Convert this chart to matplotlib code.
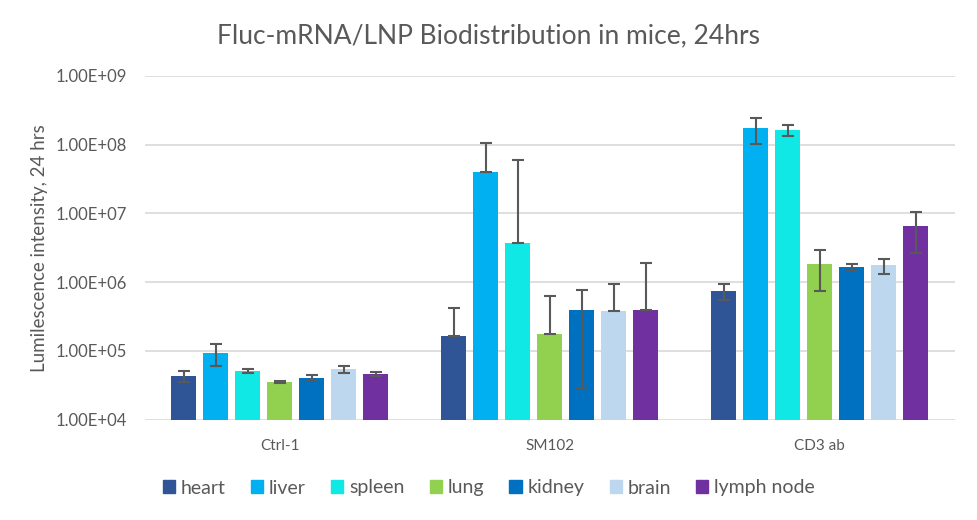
import numpy as np
import matplotlib
matplotlib.use("Agg")
import matplotlib.pyplot as plt
from matplotlib.patches import Patch

plt.rcParams["font.family"] = ["Lato", "DejaVu Sans"]

# groups and organs
GROUPS = ["Ctrl-1", "SM102", "CD3 ab"]
ORGANS = ["heart", "liver", "spleen", "lung", "kidney", "brain", "lymph node"]
COLORS = ["#2F5597", "#00B0F0", "#0FE8E4", "#92D050", "#0070C0", "#BDD7EE", "#7030A0"]

# mean intensity per organ, one value per group
heart = [4.3e4, 1.64e5, 7.4e5]
liver = [9.3e4, 3.96e7, 1.73e8]
spleen = [5.07e4, 3.67e6, 1.61e8]
lung = [3.51e4, 1.75e5, 1.82e6]
kidney = [4.01e4, 3.9e5, 1.65e6]
brain = [5.42e4, 3.78e5, 1.76e6]
lymph = [4.59e4, 3.9e5, 6.5e6]

# error bar ends (lower, upper)
heart_lo, heart_hi = [3.54e4, 1.64e5, 5.46e5], [5.12e4, 4.22e5, 9.4e5]
liver_lo, liver_hi = [6.05e4, 3.96e7, 1.02e8], [1.26e5, 1.05e8, 2.44e8]
spleen_lo, spleen_hi = [4.79e4, 3.67e6, 1.33e8], [5.47e4, 5.97e7, 1.93e8]
lung_lo, lung_hi = [3.4e4, 1.75e5, 7.4e5], [3.62e4, 6.3e5, 2.94e6]
kidney_lo, kidney_hi = [3.71e4, 2.84e4, 1.46e6], [4.48e4, 7.7e5, 1.84e6]
brain_lo, brain_hi = [4.79e4, 3.78e5, 1.32e6], [6.05e4, 9.4e5, 2.17e6]
lymph_lo, lymph_hi = [4.29e4, 3.9e5, 2.66e6], [4.95e4, 1.9e6, 1.05e7]

YTICKS = [1e4, 1e5, 1e6, 1e7, 1e8, 1e9]
YTICKLABELS = ["1.00E+04", "1.00E+05", "1.00E+06", "1.00E+07", "1.00E+08", "1.00E+09"]

means = [heart, liver, spleen, lung, kidney, brain, lymph]
lows = [heart_lo, liver_lo, spleen_lo, lung_lo, kidney_lo, brain_lo, lymph_lo]
highs = [heart_hi, liver_hi, spleen_hi, lung_hi, kidney_hi, brain_hi, lymph_hi]

TXT = "#595959"

fig = plt.figure(figsize=(9.78, 5.2), dpi=100)
ax = fig.add_axes([0.148, 0.193, 0.828, 0.661])

x = np.arange(len(GROUPS))
step = 32 / 270
width = 25 / 270
for i, organ in enumerate(ORGANS):
    m = np.array(means[i])
    lo = np.array(lows[i])
    hi = np.array(highs[i])
    pos = x + (i - 3) * step
    ax.bar(pos, m, width=width, color=COLORS[i], zorder=2, label=organ)
    ax.errorbar(pos, m, yerr=[m - lo, hi - m], fmt="none", ecolor=TXT,
                elinewidth=1.5, capsize=4, capthick=1.5, zorder=3)

ax.set_yscale("log")
ax.set_ylim(1e4, 1e9)
ax.set_xlim(-0.5, 2.5)
ax.set_yticks(YTICKS)
ax.set_yticklabels(YTICKLABELS)
ax.minorticks_off()
ax.set_xticks(x)
ax.set_xticklabels(GROUPS)
ax.tick_params(axis="both", length=0, colors=TXT)
ax.tick_params(axis="y", labelsize=12, pad=13)
ax.tick_params(axis="x", labelsize=11, pad=14)
ax.yaxis.grid(True, color="#D9D9D9", linewidth=1.2, zorder=0)
ax.set_axisbelow(True)
for s in ax.spines.values():
    s.set_visible(False)

fig.text(40 / 978, 1 - 248 / 520, "Lumilescence intensity, 24 hrs", rotation=90,
         ha="center", va="center", fontsize=13.5, color=TXT)
fig.text(0.5, 1 - 36 / 520, "Fluc-mRNA/LNP Biodistribution in mice, 24hrs",
         ha="center", va="center", fontsize=19, color=TXT)

handles = [Patch(color=c) for c in COLORS]
fig.legend(handles, ORGANS, loc="center", bbox_to_anchor=(0.5, 1 - 488 / 520),
           ncol=7, frameon=False, fontsize=14, handlelength=0.62, handleheight=0.62,
           handletextpad=0.3, columnspacing=1.3, labelcolor=TXT)

fig.savefig("out.png", dpi=100)
